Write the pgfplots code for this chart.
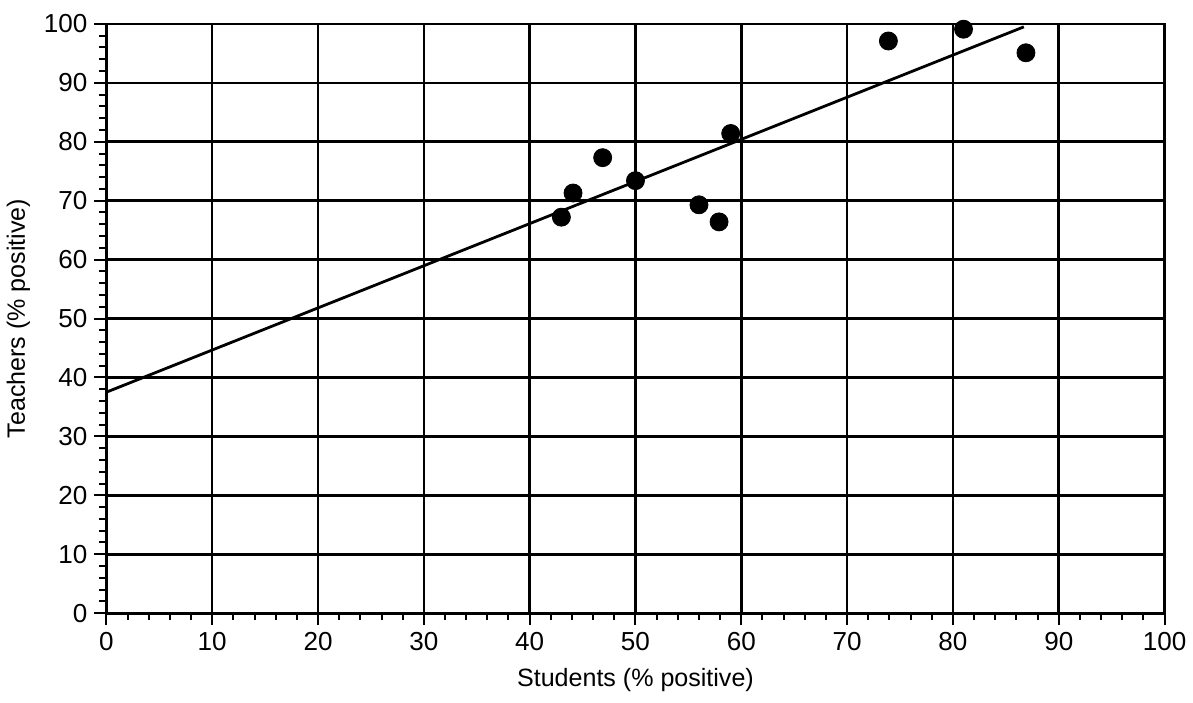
\documentclass[border=0pt]{standalone}
\usepackage{fontspec}
\setmainfont{Liberation Sans}
\usepackage{pgfplots}
\pgfplotsset{compat=1.18}

\begin{document}
\begin{tikzpicture}
\begin{axis}[
    scale only axis,
    width=528pt, height=294pt,
    xmin=0, xmax=100, ymin=0, ymax=100,
    xtick={0,10,...,100}, ytick={0,10,...,100},
    minor tick num=4,
    xtick pos=bottom, ytick pos=left,
    tick align=outside,
    major tick length=6pt, minor tick length=3.5pt,
    every tick/.style={black, line width=1pt},
    grid=major,
    major grid style={black, line width=1.3pt},
    axis line style={line width=1.4pt},
    xlabel={Students (\% positive)},
    ylabel={Teachers (\% positive)},
    xlabel style={yshift=-2pt},
    ticklabel style={font=\fontsize{13}{15}\selectfont},
    label style={font=\fontsize{12.5}{15}\selectfont},
    /pgf/number format/assume math mode=true,
    clip=false,
]
\addplot[black, line width=1.4pt] coordinates {(0,37.5) (86.7,99.5)};
\addplot[only marks, mark=*, mark size=4.5pt, black] coordinates {
    (43.0,67.2) (44.1,71.3) (46.9,77.3) (50.0,73.4) (56.0,69.3)
    (57.9,66.4) (59.0,81.4) (73.9,97.1) (81.0,99.1) (86.9,95.1)
};
\end{axis}
% a little more room above and below, as in the scan
\path (current bounding box.north) ++(0,4pt) (current bounding box.south) ++(0,-2pt);
\end{tikzpicture}
\end{document}
